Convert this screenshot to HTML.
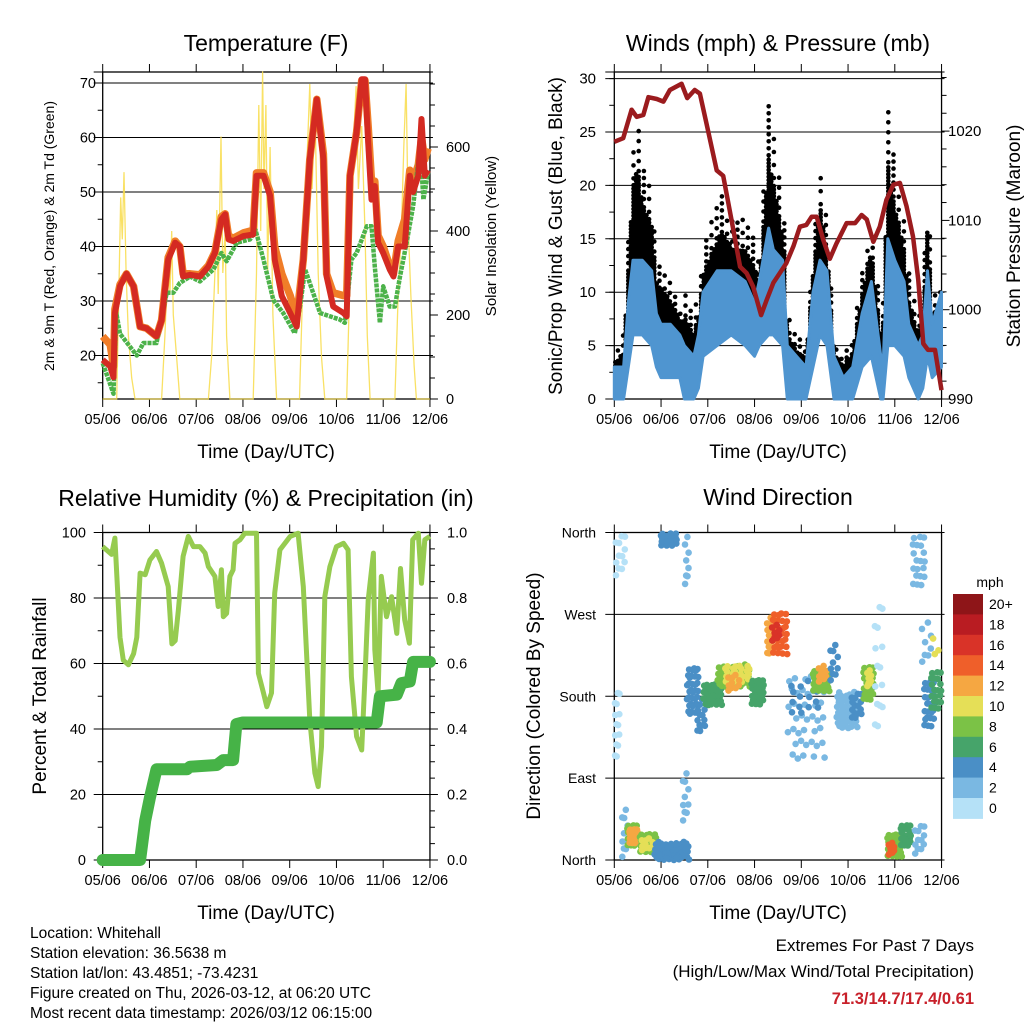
<!DOCTYPE html>
<html><head><meta charset="utf-8"><style>
html,body{margin:0;padding:0;background:#fff}
svg{display:block;font-family:"Liberation Sans",Arial,sans-serif}
</style></head><body>
<svg id="chart" xmlns="http://www.w3.org/2000/svg" width="1024" height="1024" viewBox="0 0 1024 1024">
<rect width="1024" height="1024" fill="#fff"/>
<g id="layer"></g>
<text x="266" y="51" font-size="23" text-anchor="middle">Temperature (F)</text>
<text x="778" y="51" font-size="23" text-anchor="middle">Winds (mph) &amp; Pressure (mb)</text>
<text x="266" y="506" font-size="23" text-anchor="middle">Relative Humidity (%) &amp; Precipitation (in)</text>
<text x="778" y="505" font-size="23" text-anchor="middle">Wind Direction</text>
<text x="266" y="458" font-size="19" text-anchor="middle">Time (Day/UTC)</text>
<text x="778" y="458" font-size="19" text-anchor="middle">Time (Day/UTC)</text>
<text x="266" y="919" font-size="19" text-anchor="middle">Time (Day/UTC)</text>
<text x="778" y="919" font-size="19" text-anchor="middle">Time (Day/UTC)</text>
<text transform="translate(54,236) rotate(-90)" font-size="14" text-anchor="middle">2m &amp; 9m T (Red, Orange) &amp; 2m Td (Green)</text>
<text transform="translate(496,236) rotate(-90)" font-size="15" text-anchor="middle">Solar Insolation (Yellow)</text>
<text transform="translate(562,236) rotate(-90)" font-size="19" text-anchor="middle">Sonic/Prop Wind &amp; Gust (Blue, Black)</text>
<text transform="translate(1020,236) rotate(-90)" font-size="19" text-anchor="middle">Station Pressure (Maroon)</text>
<text transform="translate(46,696) rotate(-90)" font-size="19" text-anchor="middle">Percent &amp; Total Rainfall</text>
<text transform="translate(540,696) rotate(-90)" font-size="19" text-anchor="middle">Direction (Colored By Speed)</text>
<text x="990" y="587" font-size="14" text-anchor="middle">mph</text>
<g font-size="15.5">
<text x="30" y="938">Location: Whitehall</text>
<text x="30" y="958">Station elevation: 36.5638 m</text>
<text x="30" y="978">Station lat/lon: 43.4851; -73.4231</text>
<text x="30" y="998">Figure created on Thu, 2026-03-12, at 06:20 UTC</text>
<text x="30" y="1018">Most recent data timestamp: 2026/03/12 06:15:00</text>
</g>
<text x="974" y="951" font-size="17" text-anchor="end">Extremes For Past 7 Days</text>
<text x="974" y="977" font-size="17" text-anchor="end">(High/Low/Max Wind/Total Precipitation)</text>
<text x="974" y="1004" font-size="16.5" font-weight="bold" fill="#c8202a" text-anchor="end">71.3/14.7/17.4/0.61</text>
</svg>
<script>
// ---------- data ----------
const tempTimes=[0,0.16,0.23,0.26,0.37,0.51,0.66,0.80,0.94,1.15,1.26,1.40,1.55,1.65,1.72,1.87,2.08,2.26,2.40,2.54,2.62,2.69,2.79,3.01,3.22,3.29,3.44,3.58,3.68,3.83,4.01,4.15,4.29,4.43,4.58,4.72,4.79,4.93,5.15,5.22,5.29,5.43,5.54,5.61,5.68,5.75,5.82,5.89,6.00,6.14,6.22,6.32,6.46,6.57,6.64,6.75,6.82,6.89,6.96];
const temp2m=[19.2,18,16,27.8,32.7,35,32.7,25.3,25,23.5,26.5,37.6,40.7,40,34.5,34.8,34.5,36.3,38.8,45,45.9,41.3,41,41.9,42.2,53,53,49.3,37.6,30.9,27.8,25.3,37.6,56,67,56,34.5,29,27.8,27.2,53,61,70.7,70.7,59,48.6,51.1,40.7,38.8,35.8,34.5,40,40,53,50,53,63.4,53,54];
const temp9m=[23.5,22,18,28.5,33,35,32.7,25.3,25,23.5,26.5,38,41,40,35,35,34.8,36.5,39,45.5,46,42,41.5,42.5,43,53.5,53.5,50,40,35,31,27,37.6,56,67,57,35,31.5,31,31,53,61,70.5,70.5,62,52,52,42,40,36.5,35,41,45,54,52,55,60,56,58];
const tdTimes=[0,0.23,0.29,0.37,0.73,0.87,1.15,1.37,1.51,1.65,1.87,2.08,2.37,2.54,2.65,2.87,3.15,3.27,3.44,3.65,3.86,4.11,4.22,4.33,4.50,4.65,4.86,5.07,5.18,5.32,5.43,5.65,5.75,5.82,5.93,6.00,6.14,6.25,6.36,6.50,6.64,6.79,6.86,6.96];
const dewpoint=[18.6,13,27.8,24,20,22.3,22.3,31.5,31.5,33.3,34.5,33.6,35.8,38.8,37.3,40.7,41.3,43,37.6,30.2,27.8,24.1,29,35.8,31.5,27.8,27.2,26.6,26,37.6,38.8,43.7,43.7,36.3,26,32.7,29,29,34.5,40.7,47.4,58.5,48.6,53.6];
const solarTimes=[0,0.30,0.335,0.385,0.42,0.456,0.50,0.55,0.62,0.69,1.26,1.33,1.40,1.44,1.475,1.51,1.58,1.65,2.26,2.33,2.40,2.44,2.47,2.53,2.57,2.62,2.65,2.72,3.22,3.29,3.34,3.38,3.42,3.45,3.49,3.53,3.58,3.64,3.72,4.21,4.26,4.33,4.38,4.43,4.48,4.54,4.61,4.68,4.75,5.22,5.29,5.36,5.42,5.47,5.54,5.61,5.66,5.72,6.25,6.32,6.39,6.44,6.49,6.54,6.59,6.66,6.71,7.0];
const solarValues=[0,0,200,480,380,540,300,150,50,0,0,150,350,250,400,200,100,0,0,100,300,450,250,625,300,400,150,0,0,300,700,400,780,500,700,300,600,200,0,0,200,400,600,750,500,700,300,100,0,0,300,600,745,500,650,400,150,0,0,250,400,600,750,400,250,80,0,0];
const pressTimes=[0,0.19,0.37,0.48,0.62,0.73,0.91,1.05,1.19,1.44,1.56,1.72,1.83,1.97,2.19,2.33,2.51,2.69,2.83,2.97,3.14,3.26,3.40,3.54,3.68,3.83,3.97,4.11,4.22,4.33,4.47,4.61,4.75,4.97,5.15,5.29,5.40,5.54,5.68,5.82,5.97,6.11,6.25,6.39,6.50,6.61,6.71,6.86,7.0];
const pressure=[1018.8,1019.2,1022.4,1021.6,1021.8,1023.8,1023.6,1023.3,1024.6,1025.3,1023.7,1024.6,1024.2,1020.9,1015.6,1015,1010,1004.8,1004.1,1002.6,999.4,1001.1,1003,1004.1,1005.2,1007.1,1009.3,1009.5,1010.4,1010.4,1007.8,1005.7,1007.4,1009.7,1009.7,1010.6,1010.1,1007.6,1009.3,1012.3,1014,1014.2,1011.6,1008.2,1003.4,996.2,995.5,995.5,991];
const windTimes=[0,0.2,0.3,0.4,0.6,0.8,0.9,1.0,1.2,1.4,1.5,1.7,1.8,1.9,2.2,2.5,2.8,3.0,3.1,3.3,3.4,3.6,3.7,3.9,4.1,4.25,4.4,4.55,4.7,4.9,5.1,5.3,5.5,5.7,5.75,5.85,6.0,6.2,6.3,6.5,6.6,6.7,6.8,7.0];
const windLow=[0,0,3,6,6,5,3,2,2,2,0,0,1,4,5,6,5,4,5,6,6,5,0,0,0,3,6,5,0,0,0,3,4,0,0,5,5,4,2,0,1,4,2,3];
const windHigh=[3,3,9,13,13,12,8,7,7,6,5,4,6,10,12,12,11,9,11,16,14,13,5,4,3,10,13,12,4,2,3,8,11,4,3,15,13,11,7,5,6,12,7,10];
const gustTimes=[0,0.2,0.3,0.4,0.5,0.6,0.8,0.9,1.0,1.2,1.4,1.5,1.7,1.8,1.9,2.1,2.3,2.5,2.8,3.0,3.1,3.3,3.5,3.65,3.7,3.9,4.1,4.25,4.4,4.55,4.7,4.9,5.1,5.3,5.5,5.7,5.75,5.85,6.0,6.2,6.3,6.5,6.6,6.7,6.8,7.0];
const gustLow=[0,1,6,11,12,10,8,6,5,5,4,2,2,3,6,7,8,8,7,6,6,10,9,8,2,1,1,6,10,7,1,1,1,5,7,2,3,8,8,7,3,2,3,5,4,4];
const gustHigh=[5,6,15,24,26,22,20,13,13,11,9,10,8,10,14,17,19,17,17,15,13,28,22,16,8,6,5,14,22,17,6,4,6,12,17,8,9,28,22,17,12,8,9,21,10,10];
const rhTimes=[0,0.19,0.26,0.37,0.44,0.55,0.66,0.73,0.80,0.91,1.01,1.15,1.26,1.40,1.48,1.55,1.62,1.72,1.83,1.94,2.08,2.19,2.26,2.40,2.47,2.54,2.58,2.65,2.72,2.79,2.83,2.94,3.04,3.29,3.33,3.44,3.51,3.61,3.68,3.79,4.01,4.18,4.29,4.43,4.54,4.61,4.68,4.75,4.86,5.00,5.15,5.25,5.32,5.43,5.54,5.61,5.68,5.79,5.82,5.89,5.96,6.07,6.18,6.29,6.37,6.46,6.56,6.63,6.75,6.82,6.89,7.0];
const rhValues=[95.7,93.3,98.3,68,61,59.6,63,68,87.6,87.1,91.6,94.2,90.6,83.5,66,67,76.4,92.7,98.8,95.7,95.7,93.7,89.6,86.6,77.4,88.6,74.3,75.3,86.6,88.6,96.7,97.8,99.8,99.8,57,51,46.8,51,81.5,94.7,98.8,99.8,83.5,42.8,26.5,22.4,34.6,80.4,89.6,95.7,96.7,94.7,56,37.7,33.6,56,79.4,93.7,64.2,50.9,86.6,74.3,80.4,69.2,89,73.3,66.2,97.8,99.8,84.5,97.8,98.8];
const rainTimes=[0,0.80,0.91,1.01,1.15,1.8,1.87,2.44,2.58,2.79,2.86,3.0,5.86,5.93,6.29,6.39,6.57,6.64,7.0];
const rainValues=[0,0,0.12,0.19,0.277,0.277,0.285,0.29,0.305,0.305,0.415,0.42,0.42,0.50,0.505,0.54,0.545,0.605,0.605];
// wind direction clusters
const dirStart=[0,0,0.15,0.25,0.3,0.5,0.55,0.85,0.95,1.45,1.5,1.55,1.75,1.9,2.2,2.3,2.4,2.9,3.25,3.35,3.35,3.7,3.7,4.2,4.35,4.6,4.75,5.05,5.3,5.4,5.55,5.8,5.85,6.1,6.35,6.4,6.6,6.75,6.55,6.8];
const dirEnd=[0.25,0.12,0.3,0.5,0.5,0.9,0.85,1.6,1.35,1.6,1.6,1.8,1.95,2.3,2.9,2.9,2.7,3.2,3.4,3.7,3.55,4.5,4.4,4.6,4.55,4.8,5.2,5.3,5.55,5.5,5.75,6.15,6.0,6.35,6.65,6.65,6.85,7.0,6.8,6.95];
const dirLow=[310,110,0,15,18,8,10,0,345,40,300,160,140,170,190,195,185,170,225,225,240,110,160,185,195,195,145,155,175,190,140,3,5,15,300,5,145,165,215,220];
const dirHigh=[360,190,60,40,35,30,25,20,360,100,360,215,180,195,215,215,205,200,270,275,260,210,200,210,215,240,185,185,215,210,290,30,20,40,360,40,200,210,265,250];
const dirSpeed=[1,1,3,9,12,9,11,5,5,3,2,5,5,7,9,11,13,7,13,14,17,2,4,9,12,4,2,5,8,11,1,9,14,7,2,3,5,6,3,11];
const dirCount=[12,14,10,20,25,25,10,60,20,10,8,35,15,40,50,25,10,25,15,30,8,40,15,30,10,10,55,15,25,8,15,30,8,20,20,12,25,20,8,3];
const speedLabels=["20+","18","16","14","12","10","8","6","4","2","0"];
const speedColors=["#b5e1f7","#7ab8e2","#4a8fc6","#46a46a","#7bc246","#e5df57","#f5a742","#ef5f2a","#d93328","#b91c22","#8e1518"];
const dayLabels=["05/06","06/06","07/06","08/06","09/06","10/06","11/06","12/06"];
const tempTicks=[20,30,40,50,60,70];
const solarTicks=[0,200,400,600];
const windTicks=[0,5,10,15,20,25,30];
const pressTicks=[990,1000,1010,1020];
const rhTicks=[0,20,40,60,80,100];
const rainTicks=["0.0","0.2","0.4","0.6","0.8","1.0"];
const dirTicks=["North","East","South","West","North"];

// ---------- scales ----------
const NS="http://www.w3.org/2000/svg";
const layer=document.getElementById('layer');
const PXD=46.75;
const L1=102.7, L2=614.3;
const xA=d=>L1+d*PXD, xB=d=>L2+d*PXD;
const TOP=72, BOT=399, TOP2=532.5, BOT2=860;
const yTemp=v=>83+(70-v)*5.45;
const ySolar=v=>399-v*0.42;
const yWind=v=>399-v*10.68;
const yPress=v=>399-(v-990)*8.93;
const yRH=v=>860-v*3.275;
const yRain=v=>860-v*327.5;
const yDir=v=>860-v*(327.5/360);

function mk(tag,attrs,parent){const e=document.createElementNS(NS,tag);for(const k in attrs)e.setAttribute(k,attrs[k]);(parent||layer).appendChild(e);return e;}
function pathFrom(ts,vs,xf,yf){return ts.map((t,i)=>(i?'L':'M')+xf(t).toFixed(1)+','+yf(vs[i]).toFixed(1)).join('');}
function interp(ts,vs,t){if(t<=ts[0])return vs[0];for(let i=1;i<ts.length;i++){if(t<=ts[i]){const f=(t-ts[i-1])/(ts[i]-ts[i-1]);return vs[i-1]+f*(vs[i]-vs[i-1]);}}return vs[vs.length-1];}

function frame(x0,y0,y1,name){
  const x1=x0+7*PXD;
  const g=mk('g',{});
  
  
  for(let i=0;i<8;i++){
    const x=x0+i*PXD;
    const tt=mk('line',{x1:x,x2:x,y1:y0-8,y2:y0,stroke:'#000','stroke-width':1},g);
    
    
    const tb=mk('line',{x1:x,x2:x,y1:y1,y2:y1+8,stroke:'#000','stroke-width':1},g);
    
    
    const lb=mk('text',{x:x,y:y1+25,'font-size':14.5,'text-anchor':'middle'},g);
    lb.textContent=dayLabels[i];
    
    
  }
  const r=mk('rect',{x:x0,y:y0,width:x1-x0,height:y1-y0,fill:'none',stroke:'#000','stroke-width':1.3},g);
  
  
  return g;
}
function hgrid(x0,y,g){const l=mk('line',{x1:x0-9,x2:x0+7*PXD+3,y1:y,y2:y,stroke:'#000','stroke-width':1},g);}
function tick(x,y,len,g){const l=mk('line',{x1:x,x2:x+len,y1:y,y2:y,stroke:'#000','stroke-width':1},g);}
function label(x,y,txt,anchor,g,size){const t=mk('text',{x:x,y:y+5,'font-size':size||14.5,'text-anchor':anchor},g);t.textContent=txt;}

// ---------- Panel 1: temperature ----------
const g1=frame(L1,TOP,BOT,'temperature');
hgrid(L1,TOP,g1);
tempTicks.forEach(v=>{hgrid(L1,yTemp(v),g1);label(96,yTemp(v),String(v),'end',g1);});
for(let v=15;v<=70;v+=5){tick(L1-5,yTemp(v),5,g1);}
for(let v=0;v<=750;v+=50){tick(L1+7*PXD,ySolar(v),v%200===0?8:5,g1);}
solarTicks.forEach(v=>label(446,ySolar(v),String(v),'start',g1));
const solarLine=mk('path',{d:pathFrom(solarTimes,solarValues,xA,ySolar),fill:'none',stroke:'#f8dc4a','stroke-width':1.3,'stroke-opacity':0.85});


const t9=mk('path',{d:pathFrom(tempTimes,temp9m,xA,yTemp),fill:'none',stroke:'#f07d28','stroke-width':7.5,'stroke-linejoin':'round'});


const tdl=mk('path',{d:pathFrom(tdTimes,dewpoint,xA,yTemp),fill:'none',stroke:'#4cb24a','stroke-width':4.5,'stroke-dasharray':'4 1','stroke-linejoin':'round'});


const t2=mk('path',{d:pathFrom(tempTimes,temp2m,xA,yTemp),fill:'none',stroke:'#d42a22','stroke-width':6,'stroke-linejoin':'round'});



// ---------- Panel 2: winds ----------
const g2=frame(L2,TOP,BOT,'winds');
hgrid(L2,TOP,g2);
windTicks.forEach(v=>{hgrid(L2,yWind(v),g2);label(596,yWind(v),String(v),'end',g2,15);});
for(let v=0;v<=30;v+=2.5){tick(L2-5,yWind(v),5,g2);}
for(let v=990;v<=1026;v+=2){tick(L2+7*PXD,yPress(v),v%10===0?8:5,g2);}
pressTicks.forEach(v=>label(948,yPress(v),String(v),'start',g2,15));
const gustG=mk('g',{fill:'#000'});


let col=0;
for(let x=L2+1;x<=L2+7*PXD-1;x+=2.6){
  col++;
  const d=(x-L2)/PXD;
  const lo=interp(gustTimes,gustLow,d), hi=interp(gustTimes,gustHigh,d);
  const mid=lo+0.7*(hi-lo);
  const yl=yWind(lo), ym=yWind(mid), yh=yWind(hi);
  const off=(col%2)*1.6;
  for(let y=yl-off;y>=ym;y-=3.4){
    const c=mk('circle',{cx:x.toFixed(1),cy:y.toFixed(1),r:2.3},gustG);
    
    
  }
  if(col%2===0){
    for(let y=ym-3-((col*7)%5);y>=yh;y-=7+(col%3)*3){
      const c=mk('circle',{cx:x.toFixed(1),cy:y.toFixed(1),r:2.3},gustG);
      
      
    }
  }
}
const wtop=windTimes.map((t,i)=>xB(t).toFixed(1)+','+yWind(windHigh[i]).toFixed(1));
const wbot=windTimes.map((t,i)=>xB(t).toFixed(1)+','+yWind(windLow[i]).toFixed(1)).reverse();
const windPoly=mk('polygon',{points:wtop.concat(wbot).join(' '),fill:'#4f95d0',stroke:'#4f95d0','stroke-width':3,'stroke-linejoin':'round'});


const pl=mk('path',{d:pathFrom(pressTimes,pressure,xB,yPress),fill:'none',stroke:'#9b1b1e','stroke-width':4.5,'stroke-linejoin':'round'});



// ---------- Panel 3: humidity ----------
const g3=frame(L1,TOP2,BOT2,'humidity');
rhTicks.forEach(v=>{hgrid(L1,yRH(v),g3);label(86,yRH(v),String(v),'end',g3);});
for(let v=0;v<=100;v+=10){tick(L1-5,yRH(v),5,g3);}
for(let v=0;v<=100;v+=5){tick(L1+7*PXD,yRH(v),v%20===0?8:5,g3);}
rainTicks.forEach((s,i)=>label(447,yRain(i*0.2),s,'start',g3));
const rhl=mk('path',{d:pathFrom(rhTimes,rhValues,xA,yRH),fill:'none',stroke:'#96cb50','stroke-width':5,'stroke-linejoin':'round'});


const rnl=mk('path',{d:pathFrom(rainTimes,rainValues,xA,yRain),fill:'none',stroke:'#46b347','stroke-width':12,'stroke-linejoin':'round','stroke-linecap':'round'});



// ---------- Panel 4: wind direction ----------
const g4=frame(L2,TOP2,BOT2,'direction');
dirTicks.forEach((s,i)=>{hgrid(L2,yDir(i*90),g4);label(596,yDir(i*90),s,'end',g4,14);});
const dirG=mk('g',{});


for(let c=0;c<dirStart.length;c++){
  const colr=speedColors[Math.min(10,Math.floor(dirSpeed[c]/2))];
  for(let k=0;k<dirCount[c];k++){
    const u=((k*0.7548776+0.37)%1), v=((k*0.5698403+0.21)%1);
    const d=dirStart[c]+u*(dirEnd[c]-dirStart[c]);
    const dir=dirLow[c]+v*(dirHigh[c]-dirLow[c]);
    const p=mk('circle',{cx:xB(d).toFixed(1),cy:yDir(dir).toFixed(1),r:3.3,fill:colr},dirG);
    
    
  }
}
// colorbar
const cb=mk('g',{});


for(let i=0;i<11;i++){
  const y=594+i*20.4;
  const r=mk('rect',{x:953,y:y.toFixed(1),width:30,height:20.9,fill:speedColors[10-i]},cb);
  
  
  const t=mk('text',{x:989,y:(y+15).toFixed(1),'font-size':14},cb);
  t.textContent=speedLabels[i];
  
  
}
</script>
</body></html>
